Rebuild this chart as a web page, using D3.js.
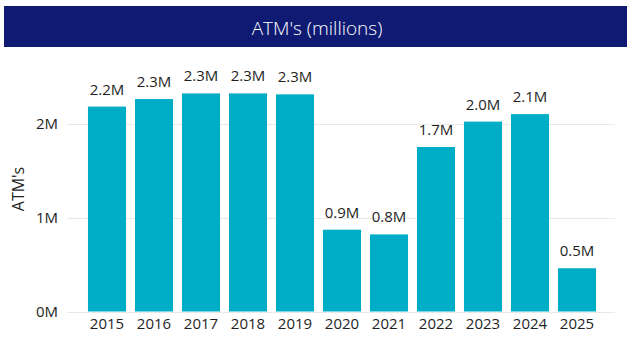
<!DOCTYPE html>
<html><head><meta charset="utf-8">
<script src="https://cdn.jsdelivr.net/npm/d3@7"></script>
<style>body{margin:0;background:#fff;}svg{display:block;}</style>
</head><body>
<svg id="c" width="634" height="348"></svg>
<script>
const title = "ATM's (millions)";
const yTitle = "ATM's";
const years = ["2015","2016","2017","2018","2019","2020","2021","2022","2023","2024","2025"];
const values = [2.18, 2.26, 2.32, 2.32, 2.31, 0.87, 0.82, 1.75, 2.02, 2.10, 0.46];
const labels = ["2.2M","2.3M","2.3M","2.3M","2.3M","0.9M","0.8M","1.7M","2.0M","2.1M","0.5M"];
const yTicks = [0, 1, 2];

const svg = d3.select("#c");
const font = "'Open Sans', sans-serif";
const ink = "#1f1f1f";

svg.append("rect").attr("x",4).attr("y",6).attr("width",623).attr("height",41).attr("fill","#0f1b73");
svg.append("text").attr("x",317).attr("y",35).attr("text-anchor","middle")
  .attr("fill","#fff").attr("font-family",font).attr("font-size",19).attr("font-weight",300).text(title);

const x = d3.scaleBand().domain(years).range([83.5,600.5]).paddingInner(0.19).paddingOuter(0.095);
const y = d3.scaleLinear().domain([0,1]).range([311.5,217.5]);

const grid = svg.append("g");
grid.selectAll("line").data(yTicks).join("line")
  .attr("x1",67).attr("x2",615).attr("y1",d=>Math.round(y(d))+0.5).attr("y2",d=>Math.round(y(d))+0.5)
  .attr("stroke","#e9e9e9").attr("stroke-width",1);

const yAxis = svg.append("g").attr("transform","translate(62,0)")
  .call(d3.axisLeft(y).tickValues(yTicks).tickFormat(d=>d+"M").tickSize(0).tickPadding(4));
yAxis.select(".domain").remove();
yAxis.selectAll("text").attr("font-family",font).attr("font-size",15).attr("fill",ink);

const xAxis = svg.append("g").attr("transform","translate(0,311.5)")
  .call(d3.axisBottom(x).tickSize(0).tickPadding(7));
xAxis.select(".domain").remove();
xAxis.selectAll("text").attr("font-family",font).attr("font-size",15).attr("fill",ink);

svg.append("text").attr("transform","translate(24,189) rotate(-90)").attr("text-anchor","middle")
  .attr("font-family",font).attr("font-size",16).attr("fill",ink).text(yTitle);

svg.append("g").selectAll("rect").data(values).join("rect")
  .attr("x",(d,i)=>x(years[i])).attr("width",x.bandwidth())
  .attr("y",d=>y(d)).attr("height",d=>y(0)-y(d)).attr("fill","#00adc6");

svg.append("g").selectAll("text").data(values).join("text")
  .attr("x",(d,i)=>x(years[i])+x.bandwidth()/2).attr("y",d=>y(d)-12)
  .attr("text-anchor","middle").attr("font-family",font).attr("font-size",15).attr("fill",ink)
  .text((d,i)=>labels[i]);
</script>
</body></html>
